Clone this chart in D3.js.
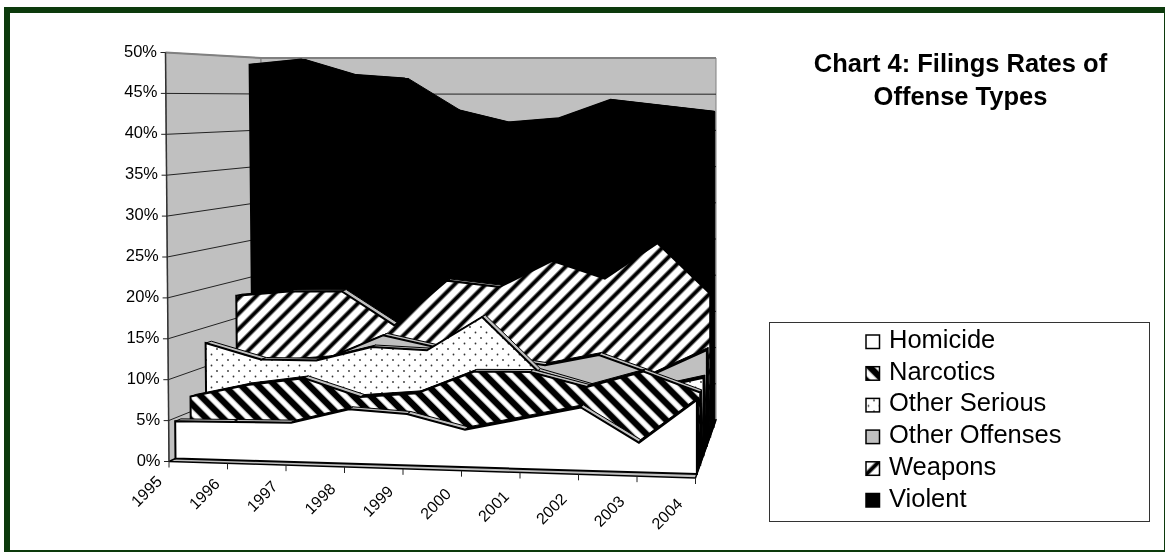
<!DOCTYPE html>
<html>
<head>
<meta charset="utf-8">
<script src="https://cdn.jsdelivr.net/npm/d3@7"></script>
<style>
    html, body { margin: 0; padding: 0; background: #fff; overflow: hidden; }
    svg { filter: blur(0.35px); }
    text { font-family: "Liberation Sans", Arial, sans-serif; fill: #000; }
</style>
</head>
<body>
<svg id="chart" width="1165" height="552"></svg>
<script>
const years = ['1995', '1996', '1997', '1998', '1999', '2000', '2001', '2002', '2003', '2004']
const seriesNames = ['Homicide', 'Narcotics', 'Other Serious', 'Other Offenses', 'Weapons', 'Violent']
const yTicks = [0, 5, 10, 15, 20, 25, 30, 35, 40, 45, 50]
const titleLines = ['Chart 4: Filings Rates of', 'Offense Types']

// percent of filings (hidden stretches are guesses)
const homicide = [4.6, 4.7, 4.8, 6.6, 6.2, 4.5, 6.0, 7.5, 3.5, 8.7]
const narcotics = [6.9, 8.5, 9.5, 7.3, 7.9, 10.7, 10.8, 9.1, 11.1, 8.7]
const otherSerious = [13.0, 11.0, 11.0, 12.8, 12.5, 16.8, 10.1, 8.2, 8.0, 9.6]
const otherOffenses = [10.0, 10.0, 10.6, 13.6, 12.1, 11.0, 10.0, 11.4, 9.0, 12.2]
const weapons = [18.0, 18.6, 18.7, 14.2, 20.2, 19.4, 22.9, 20.6, 25.3, 18.7]
const violent = [49.0, 49.7, 47.6, 47.1, 42.8, 41.1, 41.7, 44.2, 43.4, 42.6]
const seriesValues = [homicide, narcotics, otherSerious, otherOffenses, weapons, violent]

const fills = ['#fff', 'url(#narcotics)', 'url(#serious)', '#c0c0c0', 'url(#weapons)', '#000']

function main() {
    let svg = d3.select('#chart')
    let defs = svg.append('defs')

    defs.append('filter')
        .attr('id', 'soft')
        .append('feGaussianBlur')
        .attr('stdDeviation', 0.6)

    function stripes(id, angle, period, black) {
        let p = defs.append('pattern')
            .attr('id', id)
            .attr('patternUnits', 'userSpaceOnUse')
            .attr('width', period).attr('height', period)
            .attr('patternTransform', 'rotate(' + angle + ')')
        p.append('rect').attr('width', period).attr('height', period).attr('fill', '#fff')
        p.append('rect')
            .attr('x', (period - black) / 2).attr('y', -4)
            .attr('width', black).attr('height', period + 8)
            .attr('fill', '#000')
            .attr('filter', 'url(#soft)')
    }
    stripes('narcotics', -45, 12, 6.5)
    stripes('weapons', 45, 11, 4)

    let dots = defs.append('pattern')
        .attr('id', 'serious')
        .attr('patternUnits', 'userSpaceOnUse')
        .attr('width', 11).attr('height', 11)
    dots.append('rect').attr('width', 11).attr('height', 11).attr('fill', '#fff')
    dots.append('circle').attr('cx', 2.5).attr('cy', 2.5).attr('r', 0.9).attr('fill', '#333')
    dots.append('circle').attr('cx', 8).attr('cy', 8).attr('r', 0.9).attr('fill', '#333')

    // outer frame, runs off the right and bottom of the page
    svg.append('rect')
        .attr('x', 7).attr('y', 10)
        .attr('width', 1160).attr('height', 543)
        .attr('fill', '#fff').attr('stroke', '#0c3a0c').attr('stroke-width', 6)

    // fake 3D projection: year, value and depth all go through scales
    let across = d3.scalePoint().domain(years).range([0, 1])
    let depth = d3.scaleLinear().domain([0, seriesNames.length - 1]).range([0.068, 0.88])
    let xLeft = d3.scaleLinear().domain([0, 1]).range([169, 264.5])
    let xRight = d3.scaleLinear().domain([0, 1]).range([695.5, 716])
    let baseLeft = d3.scaleLinear().domain([0, 1]).range([461.5, 418])
    let baseRight = d3.scaleLinear().domain([0, 1]).range([478, 420])
    let unitLeft = d3.scaleLinear().domain([0, 1]).range([8.18, 7.2])
    let unitRight = d3.scaleLinear().domain([0, 1]).range([8.6, 7.24])
    const slab = 0.06

    function project(year, value, t) {
        let a = across(year)
        let x = d3.interpolateNumber(xLeft(t) - 0.07 * value, xRight(t))(a)
        let base = d3.interpolateNumber(baseLeft(t), baseRight(t))(a)
        let unit = d3.interpolateNumber(unitLeft(t), unitRight(t))(a)
        return [x, base - value * unit]
    }

    const first = years[0], last = years[years.length - 1]
    const poly = pts => d3.line()(pts) + 'Z'
    let g = svg.append('g')

    // walls
    g.append('path')
        .attr('d', poly([project(first, 50, 0), project(first, 50, 1), project(first, 0, 1), project(first, 0, 0)]))
        .attr('fill', '#c0c0c0').attr('stroke', '#808080')
    g.append('path')
        .attr('d', poly([project(first, 50, 1), project(last, 50, 1), project(last, 0, 1), project(first, 0, 1)]))
        .attr('fill', '#c0c0c0').attr('stroke', '#808080')
    g.append('path')
        .attr('d', d3.line()([project(first, 50, 0), project(first, 50, 1), project(last, 50, 1)]))
        .attr('fill', 'none').attr('stroke', '#808080').attr('stroke-width', 2)

    // floor
    g.append('path')
        .attr('d', poly([project(first, 0, 0), project(last, 0, 0), project(last, 0, 1), project(first, 0, 1)]))
        .attr('fill', '#c0c0c0').attr('stroke', '#000').attr('stroke-width', 1.5)

    // gridlines
    yTicks.slice(1, -1).forEach(v => {
        g.append('path')
            .attr('d', d3.line()([project(first, v, 0), project(first, v, 1), project(last, v, 1)]))
            .attr('fill', 'none').attr('stroke', '#222').attr('stroke-width', 1)
    })
    g.append('path')
        .attr('d', d3.line()([project(first, 50, 0), project(first, 0, 0)]))
        .attr('fill', 'none').attr('stroke', '#333').attr('stroke-width', 1.5)

    // y ticks and labels
    yTicks.forEach(v => {
        let p = project(first, v, 0)
        g.append('line')
            .attr('x1', p[0] - 5).attr('x2', p[0])
            .attr('y1', p[1]).attr('y2', p[1])
            .attr('stroke', '#222')
        g.append('text')
            .attr('x', p[0] - 8.5).attr('y', p[1] + 4)
            .attr('text-anchor', 'end')
            .attr('font-size', 16.5)
            .text(v + '%')
    })

    // x ticks and labels
    years.forEach(year => {
        let p = project(year, 0, 0), a = across(year)
        g.append('line')
            .attr('x1', p[0]).attr('x2', p[0])
            .attr('y1', p[1]).attr('y2', p[1] + 6)
            .attr('stroke', '#222')
        g.append('text')
            .attr('transform', 'translate(' + (p[0] - 6 - 6 * a) + ',' + (p[1] + 21 + 6 * a) + ') rotate(-45)')
            .attr('text-anchor', 'end')
            .attr('font-size', 16)
            .text(year)
    })

    // series, back to front
    d3.range(seriesNames.length - 1, -1, -1).forEach(s => {
        let t = depth(s), values = seriesValues[s]
        let sg = g.append('g').attr('class', 'series')

        // side wall at the last year, fills the gap up to the next series
        let v = values[values.length - 1]
        let back = s === seriesNames.length - 1 ? t + slab : depth(s + 1)
        sg.append('path')
            .attr('d', poly([project(last, 0, t), project(last, 0, back), project(last, v, t + slab), project(last, v, t)]))
            .attr('fill', '#000').attr('stroke', '#000')

        // top surface, one strip per segment: rising stretches sit in shadow
        d3.pairs(d3.zip(years, values)).forEach(([a, b]) => {
            let shaded = s === 5 || b[1] > a[1] + 0.3 || (s === 4 && a[0] > '1999')
            sg.append('path')
                .attr('d', poly([project(a[0], a[1], t), project(b[0], b[1], t), project(b[0], b[1], t + slab), project(a[0], a[1], t + slab)]))
                .attr('fill', shaded ? '#000' : '#c0c0c0')
                .attr('stroke', '#000').attr('stroke-width', 1)
        })

        // front face
        let outline = years.map((year, i) => project(year, values[i], t))
        outline.push(project(last, 0, t), project(first, 0, t))
        sg.append('path')
            .attr('d', poly(outline))
            .attr('fill', fills[s]).attr('stroke', '#000').attr('stroke-width', 2)
            .attr('stroke-linejoin', 'miter')
    })

    // title
    svg.append('g').selectAll('text')
        .data(titleLines)
        .enter().append('text')
        .attr('x', 960.5)
        .attr('y', (d, i) => 72 + i * 33)
        .attr('text-anchor', 'middle')
        .attr('font-size', 25.5)
        .attr('font-weight', 'bold')
        .text(d => d)

    // legend
    let legend = svg.append('g')
    legend.append('rect')
        .attr('x', 769.5).attr('y', 322.5)
        .attr('width', 380).attr('height', 199)
        .attr('fill', '#fff').attr('stroke', '#333')
    let row = d3.scalePoint().domain(seriesNames).range([340, 498.5])
    let cell = legend.selectAll('g.cell')
        .data(seriesNames)
        .enter().append('g')
        .attr('class', 'cell')
        .attr('transform', d => 'translate(866,' + row(d) + ')')
    cell.append('rect')
        .attr('x', 0).attr('y', -5)
        .attr('width', 13.5).attr('height', 13.5)
        .attr('fill', (d, i) => fills[i])
        .attr('stroke', '#000').attr('stroke-width', 1.5)
    cell.append('text')
        .attr('x', 23).attr('y', 8)
        .attr('font-size', 25.5)
        .text(d => d)
}

main()
</script>
</body>
</html>
